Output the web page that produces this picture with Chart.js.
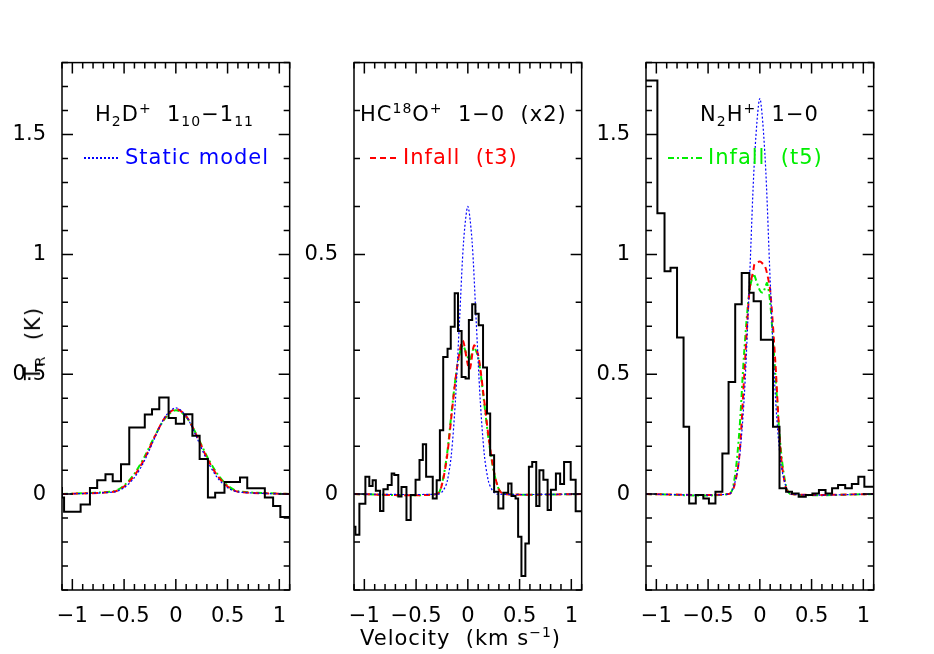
<!DOCTYPE html>
<html><head><meta charset="utf-8">
<script src="https://cdn.jsdelivr.net/npm/chart.js@4"></script>
<style>
body{margin:0;background:#fff;width:934px;height:654px;position:relative;overflow:hidden;font-family:"DejaVu Sans",sans-serif}
.box{position:absolute;top:42px;width:280px;height:588px}
.t{position:absolute;font-size:21px;letter-spacing:1px;white-space:nowrap;color:#000}
.t sub,.t sup{font-size:14px}
.lg{position:absolute;height:2px;top:157px}
</style></head><body>
<div class="box" style="left:12px"><canvas id="c1"></canvas></div>
<div class="box" style="left:304px"><canvas id="c2"></canvas></div>
<div class="box" style="left:596px"><canvas id="c3"></canvas></div>

<div class="t" style="left:95px;top:100px">H<sub>2</sub>D<sup>+</sup>&nbsp; 1<sub>10</sub>&minus;1<sub>11</sub></div>
<div class="t" style="left:360px;top:100px">HC<sup>18</sup>O<sup>+</sup>&nbsp; 1&minus;0&nbsp; (x2)</div>
<div class="t" style="left:700px;top:100px">N<sub>2</sub>H<sup>+</sup>&nbsp; 1&minus;0</div>
<div class="lg" style="left:84px;width:34px;background:repeating-linear-gradient(90deg,#00f 0 2px,transparent 2px 4px);height:1.5px"></div>
<div class="t" style="left:125px;top:145px;color:#00f">Static model</div>
<div class="lg" style="left:370px;width:26px;background:repeating-linear-gradient(90deg,#f00 0 6px,transparent 6px 10px)"></div>
<div class="t" style="left:403px;top:145px;color:#f00">Infall&nbsp; (t3)</div>
<div class="lg" style="left:668px;width:34px;background:repeating-linear-gradient(90deg,#0e0 0 6px,transparent 6px 9px,#0e0 9px 11px,transparent 11px 14px)"></div>
<div class="t" style="left:708px;top:145px;color:#0e0">Infall&nbsp; (t5)</div>
<div class="t" style="left:-2px;top:330px;transform:rotate(-90deg);transform-origin:center">T<sub>R</sub>&nbsp; (K)</div>
<div class="t" style="left:360px;top:624px">Velocity&nbsp; (km s<sup>&minus;1</sup>)</div>

<script>
// panel 1 : H2D+
const obs1Edges = [-1.10,-1.08,-0.92,-0.83,-0.76,-0.68,-0.61,-0.53,-0.45,-0.30,-0.23,-0.16,-0.07,0.00,0.08,0.16,0.23,0.31,0.38,0.47,0.62,0.69,0.86,0.94,1.01,1.07,1.10];
const obs1Levels = [0.03,-0.014,-0.074,-0.043,0.026,0.058,0.083,0.054,0.125,0.278,0.332,0.354,0.403,0.318,0.294,0.333,0.243,0.146,-0.014,0.006,0.051,0.069,0.024,-0.014,-0.05,-0.095];
const mod1V = [-1.1,-0.6,-0.5,-0.4,-0.3,-0.2,-0.1,0,0.1,0.2,0.3,0.4,0.5,0.6,1.1];
const static1 = [0,0.009,0.027,0.069,0.142,0.238,0.325,0.36,0.325,0.238,0.142,0.069,0.027,0.009,0];
const t3_1 = [0,0.01,0.032,0.078,0.15,0.243,0.322,0.355,0.325,0.245,0.152,0.078,0.032,0.01,0];
const t5_1 = [0,0.012,0.036,0.085,0.158,0.245,0.318,0.35,0.322,0.248,0.158,0.085,0.036,0.012,0];

// panel 2 : HC18O+ (x2)
const obs2Edges = [-1.117,-1.086,-1.048,-0.990,-0.952,-0.920,-0.889,-0.848,-0.816,-0.774,-0.736,-0.711,-0.672,-0.641,-0.593,-0.552,-0.505,-0.467,-0.435,-0.403,-0.339,-0.301,-0.270,-0.238,-0.196,-0.165,-0.127,-0.095,-0.060,-0.022,0.010,0.042,0.073,0.105,0.147,0.185,0.216,0.254,0.295,0.343,0.390,0.422,0.461,0.486,0.518,0.556,0.590,0.622,0.661,0.692,0.730,0.771,0.803,0.851,0.892,0.930,0.994,1.042,1.073,1.105];
const obs2Levels = [-0.058,-0.068,-0.085,-0.020,0.036,0.017,0.029,0.007,-0.035,0.010,0.019,0.043,0.040,-0.005,0.015,-0.054,-0.002,0.030,0.071,0.104,0.036,-0.009,0.029,0.133,0.286,0.303,0.349,0.419,0.340,0.244,0.241,0.363,0.396,0.376,0.352,0.264,0.168,0.081,0.005,-0.030,0.003,0.022,-0.004,-0.009,-0.089,-0.171,-0.103,0.057,0.067,-0.025,0.050,0.030,-0.033,0.009,0.043,0.021,0.067,0.030,-0.036];
const stat2V = [-1.1,-0.28,-0.24,-0.2,-0.16,-0.12,-0.08,-0.04,0,0.04,0.08,0.12,0.16,0.2,0.24,0.28,1.1];
const static2 = [0,0,0.007,0.026,0.081,0.195,0.364,0.53,0.6,0.53,0.364,0.195,0.081,0.026,0.007,0,0];
const inf2V = [-1.1,-0.3,-0.25,-0.2,-0.15,-0.1,-0.05,0,0.02,0.06,0.1,0.15,0.2,0.25,0.3,0.35,1.1];
const t3_2 = [0,0,0.02,0.08,0.18,0.27,0.32,0.27,0.26,0.31,0.29,0.21,0.12,0.05,0.01,0,0];
const t5_2 = [0,0,0.022,0.085,0.185,0.27,0.31,0.285,0.28,0.305,0.285,0.205,0.115,0.048,0.01,0,0];

// panel 3 : N2H+
const obs3Edges = [-1.117,-0.990,-0.921,-0.863,-0.800,-0.737,-0.683,-0.619,-0.546,-0.492,-0.429,-0.362,-0.302,-0.238,-0.175,-0.102,-0.060,0.010,0.127,0.190,0.254,0.311,0.375,0.444,0.508,0.571,0.635,0.698,0.756,0.825,0.889,0.952,1.010,1.073,1.105];
const obs3Levels = [1.9,1.725,1.172,0.930,0.944,0.653,0.281,-0.039,-0.004,-0.018,-0.039,0.010,0.169,0.468,0.792,0.922,0.840,0.805,0.644,0.281,0.024,0.010,0.003,-0.011,-0.004,0.003,0.017,0.003,0.024,0.038,0.024,0.042,0.072,0.031];
const stat3V = [-1.1,-0.3,-0.25,-0.2,-0.15,-0.1,-0.05,0,0.05,0.1,0.15,0.2,0.25,0.3,1.1];
const static3 = [0,0,0.035,0.14,0.41,0.89,1.41,1.65,1.41,0.89,0.41,0.14,0.035,0,0];
const inf3V = [-1.1,-0.3,-0.25,-0.2,-0.15,-0.1,-0.06,-0.05,0,0.03,0.05,0.07,0.1,0.15,0.2,0.25,0.3,1.1];
const t3_3 = [0,0,0.03,0.15,0.5,0.85,0.94,0.96,0.97,0.96,0.95,0.92,0.85,0.55,0.18,0.03,0,0];
const t5_3 = [0,0,0.05,0.25,0.6,0.85,0.92,0.91,0.85,0.84,0.86,0.88,0.8,0.5,0.2,0.04,0,0];

const xTickVals = [-1,-0.5,0,0.5,1];
const xTicks = ['\u22121','\u22120.5','0','0.5','1'];

function steps(edges, levels){
  const pts = levels.map((y,i)=>({x:edges[i],y:y}));
  pts.push({x:edges[edges.length-1], y:levels[levels.length-1]});
  return pts;
}
function pairs(xs, ys){ return xs.map((x,i)=>({x:x,y:ys[i]})); }

// inward ticks on all four sides
const frameTicks = {
  id:'frameTicks',
  afterDraw(chart){
    const {ctx, chartArea:a, scales} = chart;
    ctx.save();
    ctx.strokeStyle='#000'; ctx.lineWidth=1.5;
    ctx.strokeRect(a.left,a.top,a.right-a.left,a.bottom-a.top);
    const xs=scales.x, ys=scales.y;
    for(let i=Math.ceil(xs.min*10);i<=Math.floor(xs.max*10);i++){
      const p=xs.getPixelForValue(i/10), L=(i%5===0)?11:6;
      ctx.beginPath();ctx.moveTo(p,a.bottom);ctx.lineTo(p,a.bottom-L);
      ctx.moveTo(p,a.top);ctx.lineTo(p,a.top+L);ctx.stroke();
    }
    for(let i=Math.ceil(ys.min*10);i<=Math.floor(ys.max*10);i++){
      const p=ys.getPixelForValue(i/10), L=(i%5===0)?11:6;
      ctx.beginPath();ctx.moveTo(a.left,p);ctx.lineTo(a.left+L,p);
      ctx.moveTo(a.right,p);ctx.lineTo(a.right-L,p);ctx.stroke();
    }
    ctx.restore();
  }
};

function makePanel(id, obs, stat, t3, t5, ymin, ymax, ylabels){
  new Chart(id, {
    type:'line',
    data:{datasets:[
      {data:obs, borderColor:'#000', borderWidth:2, stepped:'after', pointRadius:0, fill:false},
      {data:stat, borderColor:'#00f', borderWidth:1.2, borderDash:[2,2], pointRadius:0, tension:0.3, fill:false},
      {data:t3, borderColor:'#f00', borderWidth:2, borderDash:[6,4], pointRadius:0, tension:0.3, fill:false},
      {data:t5, borderColor:'#0e0', borderWidth:2, borderDash:[6,3,2,3], pointRadius:0, tension:0.3, fill:false}
    ]},
    options:{
      animation:false, responsive:true, maintainAspectRatio:false,
      layout:{padding:0},
      plugins:{legend:{display:false}, tooltip:{enabled:false}},
      scales:{
        x:{type:'linear', min:-1.1, max:1.1, grid:{display:false}, border:{display:false},
           afterFit(s){s.height=40;},
           afterBuildTicks(s){s.ticks=xTickVals.map(v=>({value:v}));},
           ticks:{color:'#000', font:{size:21, family:'DejaVu Sans'}, padding:6,
             callback:(v)=>xTicks[xTickVals.indexOf(v)]}},
        y:{type:'linear', min:ymin, max:ymax, grid:{display:false}, border:{display:false},
           afterFit(s){s.width=50;},
           afterBuildTicks(s){s.ticks=ylabels.map(v=>({value:v}));},
           ticks:{color:'#000', font:{size:21, family:'DejaVu Sans'}, padding:8,
             callback:(v)=>String(v)}}
      }
    },
    plugins:[frameTicks]
  });
}

makePanel('c1', steps(obs1Edges,obs1Levels), pairs(mod1V,static1), pairs(mod1V,t3_1), pairs(mod1V,t5_1), -0.4, 1.8, [0,0.5,1,1.5]);
makePanel('c2', steps(obs2Edges,obs2Levels), pairs(stat2V,static2), pairs(inf2V,t3_2), pairs(inf2V,t5_2), -0.2, 0.9, [0,0.5]);
makePanel('c3', steps(obs3Edges,obs3Levels), pairs(stat3V,static3), pairs(inf3V,t3_3), pairs(inf3V,t5_3), -0.4, 1.8, [0,0.5,1,1.5]);
</script>
</body></html>
